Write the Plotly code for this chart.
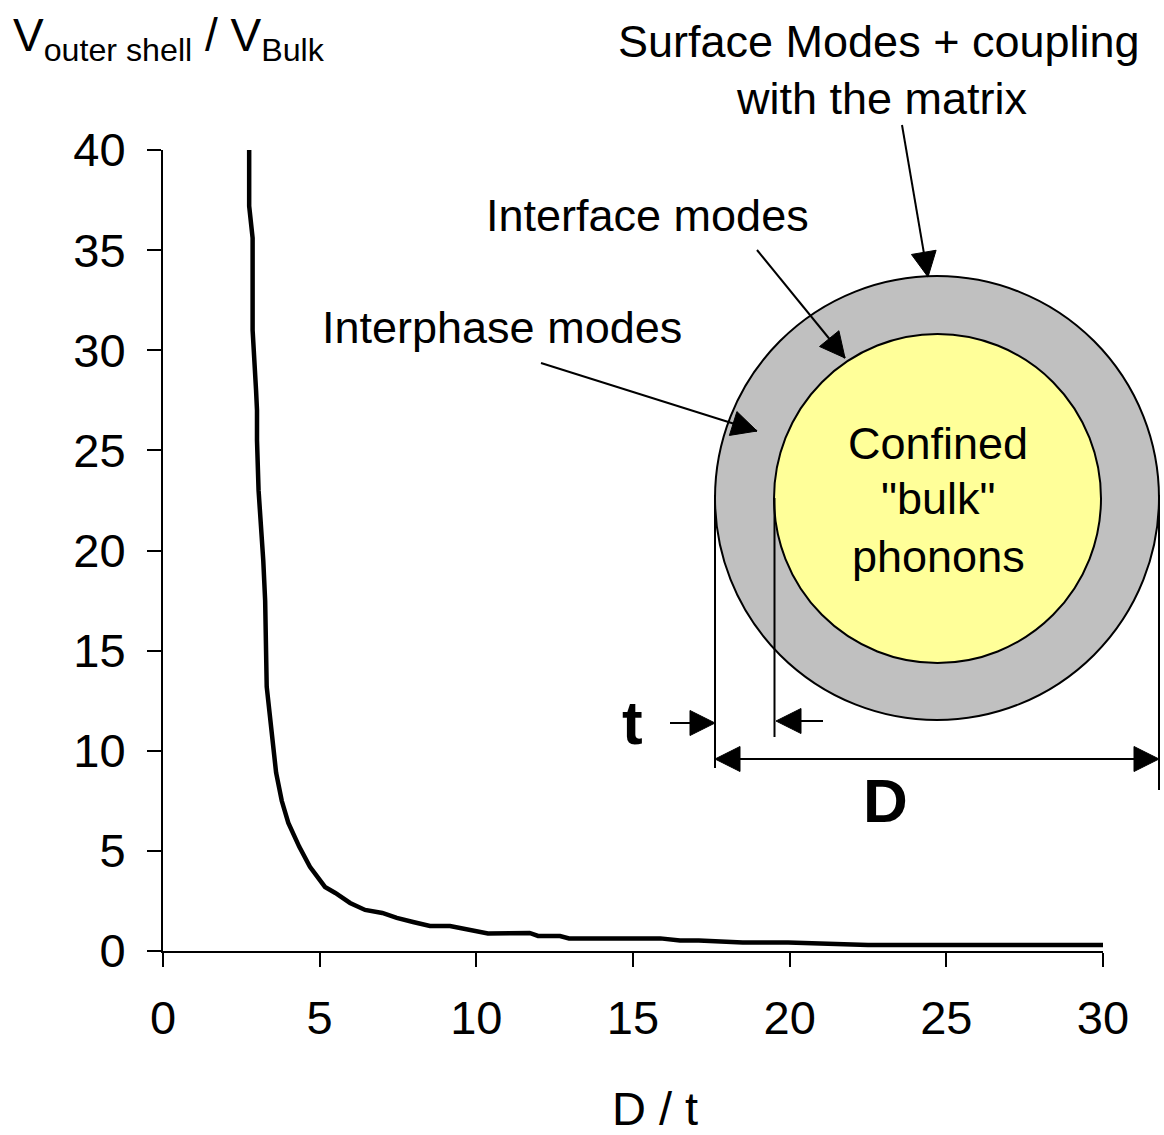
import math
import plotly.graph_objects as go

# ---------------- data ----------------
d_over_t = [2.75, 2.75, 2.86, 2.86, 2.97, 3.0, 3.0, 3.05, 3.2, 3.26, 3.31, 3.41,
            3.61, 3.79, 4.0, 4.35, 4.69, 5.17, 5.5, 5.97, 6.45, 7.0, 7.46, 7.98,
            8.52, 9.16, 10.37, 11.7, 11.97, 12.67, 12.96, 15.87, 16.5, 17.1,
            18.5, 19.95, 22.5, 30.0]
volume_ratio = [40.0, 37.2, 35.6, 31.0, 28.0, 27.0, 25.5, 23.0, 19.5, 17.5, 13.2, 11.9,
                8.9, 7.5, 6.4, 5.2, 4.2, 3.2, 2.9, 2.4, 2.05, 1.9, 1.65, 1.45,
                1.25, 1.25, 0.88, 0.9, 0.75, 0.75, 0.63, 0.63, 0.52, 0.52,
                0.42, 0.42, 0.3, 0.3]
x_ticks = [0, 5, 10, 15, 20, 25, 30]
y_ticks = [0, 5, 10, 15, 20, 25, 30, 35, 40]

# ---------------- layout geometry ----------------
W, H = 1164, 1135
L, R, T, B = 163, 61, 150, 184
PW = W - L - R
PH = H - T - B
FONT = "Liberation Sans, Arial, sans-serif"


def px(x):
    return (x - L) / PW


def py(y):
    return (H - B - y) / PH


fig = go.Figure()
fig.add_trace(go.Scatter(x=d_over_t, y=volume_ratio, mode="lines",
                         line=dict(color="black", width=4.5), hoverinfo="skip"))

shapes = []
annotations = []


def line(x0, y0, x1, y1, w=2):
    shapes.append(dict(type="line", xref="paper", yref="paper",
                       x0=px(x0), y0=py(y0), x1=px(x1), y1=py(y1),
                       line=dict(color="black", width=w)))


def head(tipx, tipy, tailx, taily, length=25, width=25):
    dx, dy = tipx - tailx, tipy - taily
    n = math.hypot(dx, dy)
    ux, uy = dx / n, dy / n
    bx, by = tipx - ux * length, tipy - uy * length
    nx, ny = -uy, ux
    p1 = (bx + nx * width / 2, by + ny * width / 2)
    p2 = (bx - nx * width / 2, by - ny * width / 2)
    path = "M {},{} L {},{} L {},{} Z".format(px(tipx), py(tipy), px(p1[0]), py(p1[1]),
                                             px(p2[0]), py(p2[1]))
    shapes.append(dict(type="path", xref="paper", yref="paper", path=path,
                       fillcolor="black", line=dict(color="black", width=1)))


def arrow(tailx, taily, tipx, tipy):
    line(tailx, taily, tipx, tipy)
    head(tipx, tipy, tailx, taily)


def text(s, x, y, size=45, bold=False, xanchor="center", yanchor="middle"):
    annotations.append(dict(text=("<b>%s</b>" % s) if bold else s, xref="paper", yref="paper",
                            x=px(x), y=py(y), xanchor=xanchor, yanchor=yanchor,
                            showarrow=False, font=dict(family=FONT, size=size, color="black")))


# circles
shapes.append(dict(type="circle", xref="paper", yref="paper",
                   x0=px(715), x1=px(1159), y0=py(720), y1=py(276),
                   fillcolor="#C0C0C0", line=dict(color="black", width=2)))
shapes.append(dict(type="circle", xref="paper", yref="paper",
                   x0=px(774), x1=px(1101), y0=py(663), y1=py(334),
                   fillcolor="#FFFF99", line=dict(color="black", width=2)))

# dimension lines
line(715, 495, 715, 768)
line(774.5, 498, 774.5, 737)
line(1159, 495, 1159, 790)
# t arrows
line(670, 723, 700, 723)
head(715, 723, 670, 723)
line(823, 721, 790, 721)
head(776, 721, 823, 721)
# D arrow
line(735, 759, 1140, 759)
head(715, 759, 1159, 759)
head(1159, 759, 715, 759)

# pointer arrows
arrow(902, 125, 928, 277)
arrow(757, 250, 845, 358)
arrow(541, 363, 757, 431)

# texts
text("Surface Modes + coupling", 879, 42)
text("with the matrix", 882, 98)
text("Interface modes", 647, 215)
text("Interphase modes", 502, 327)
text("Confined", 938, 443)
text("\"bulk\"", 938, 499)
text("phonons", 938, 556)
text("t", 632, 722, size=62, bold=True)
text("D", 885, 800, size=62, bold=True)
text("D / t", 655, 1108, size=47)
text("V<sub>outer shell</sub> / V<sub>Bulk</sub>", 11, 38, size=46, xanchor="left")

axis_common = dict(ticks="outside", ticklen=14, tickwidth=2, tickcolor="black",
                   showline=True, linewidth=2, linecolor="black", showgrid=False,
                   zeroline=False, automargin=False,
                   tickfont=dict(family=FONT, size=47, color="black"))

fig.update_layout(
    width=W, height=H,
    margin=dict(l=L, r=R, t=T, b=B, pad=0),
    paper_bgcolor="white", plot_bgcolor="white",
    showlegend=False,
    xaxis=dict(range=[0, 30], tickvals=x_ticks, ticklabelstandoff=11, **axis_common),
    yaxis=dict(range=[0, 40], tickvals=y_ticks, ticklabelstandoff=12, **axis_common),
    shapes=shapes,
    annotations=annotations,
)

fig.write_html("out.html", config={"displayModeBar": False},
               post_script="document.body.style.margin='0px';document.body.style.overflow='hidden';")
